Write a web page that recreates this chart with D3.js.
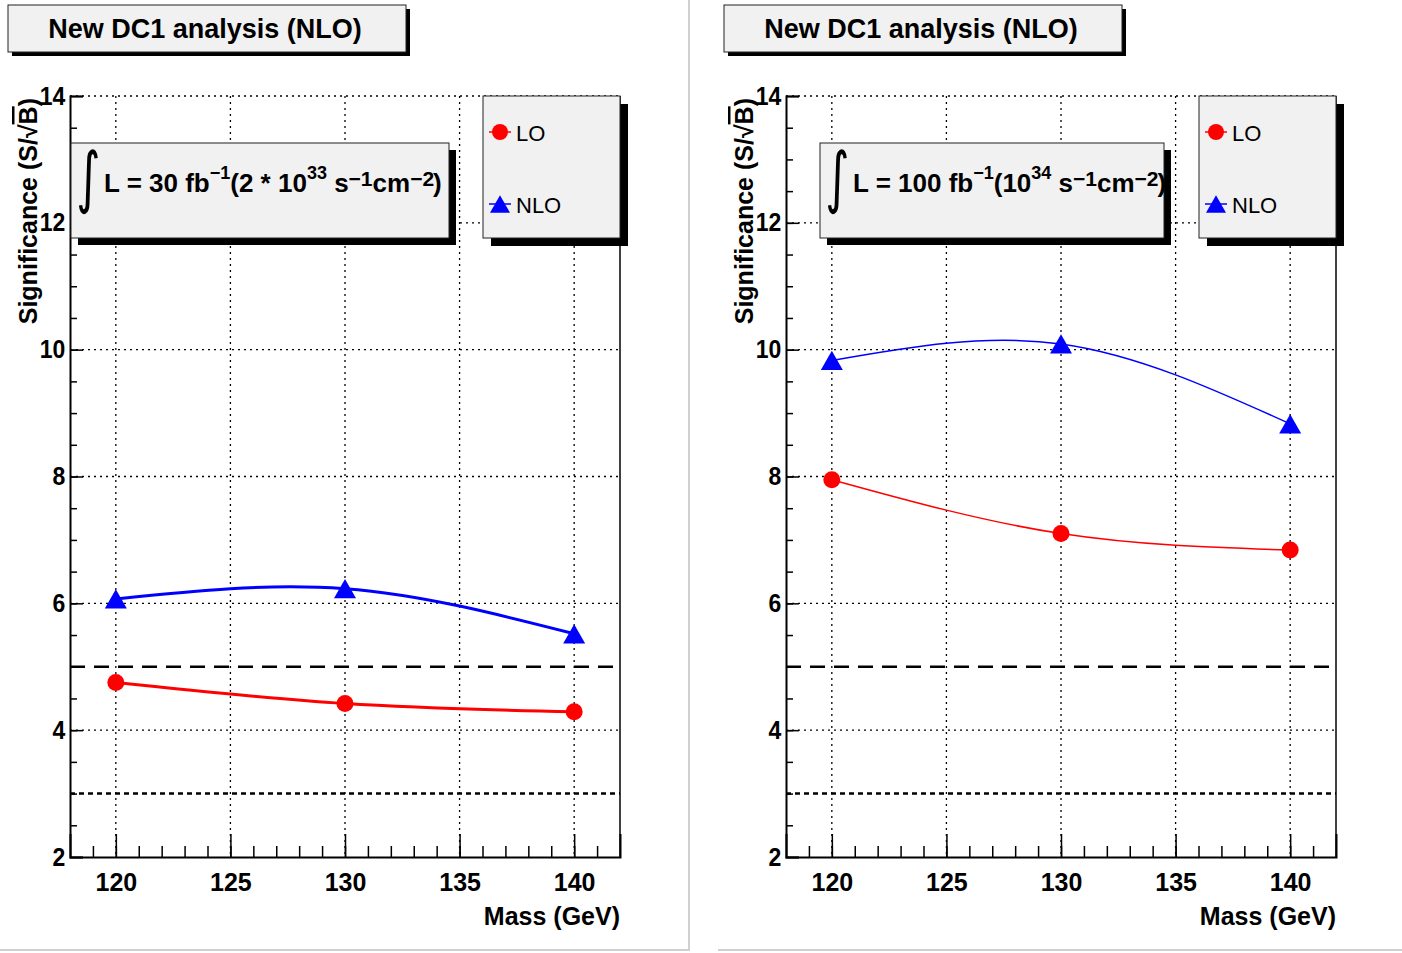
<!DOCTYPE html>
<html>
<head>
<meta charset="utf-8">
<script src="https://cdn.jsdelivr.net/npm/d3@7"></script>
<style>
	body { margin:0; background:#fff; }
	svg { display:block; font-family:"Liberation Sans", Arial, sans-serif; }
</style>
</head>
<body>
<div class="pageBody"></div>
<script>

// data
var masses = [120, 130, 140];
var lo30 = [4.75, 4.42, 4.29];
var nlo30 = [6.07, 6.23, 5.52];
var lo100 = [7.95, 7.10, 6.84];
var nlo100 = [9.83, 10.09, 8.83];

var xTicks = [120, 125, 130, 135, 140];
var xMinor = d3.range(119, 142, 1);
var yTicks = [2, 4, 6, 8, 10, 12, 14];
var yMinor = d3.range(2.5, 14, 0.5);
var refLines = [5, 3]; // 5 sigma dashed, 3 sigma dotted

var titleText = "New DC1 analysis (NLO)";
var legendNames = ["LO", "NLO"];
var colors = ["#ff0000", "#0000ff"];

var W = 1402, H = 953;

var svg = d3.select(".pageBody")
	.append("svg")
	.attr("width", W)
	.attr("height", H)
	;

// pad borders
svg.append("line").attr("x1", 689).attr("x2", 689).attr("y1", 0).attr("y2", 951)
	.attr("stroke", "#d0d0d0").attr("stroke-width", 2);
svg.append("line").attr("x1", 0).attr("x2", 689).attr("y1", 950).attr("y2", 950)
	.attr("stroke", "#d0d0d0").attr("stroke-width", 2);
svg.append("line").attr("x1", 718).attr("x2", W).attr("y1", 950).attr("y2", 950)
	.attr("stroke", "#d0d0d0").attr("stroke-width", 2);

drawPanel({ ox: 0, lo: lo30, nlo: nlo30, lw: 3, lumi: "30", boxLeft: 71, boxRight: 449 });
drawPanel({ ox: 716, lo: lo100, nlo: nlo100, lw: 1.5, lumi: "100", boxLeft: 820 - 716, boxRight: 1164 - 716 });


function shadowBox(g, x, y, w, h, off){
	g.append("rect")
		.attr("x", x + off).attr("y", y + off)
		.attr("width", w).attr("height", h)
		.attr("fill", "#000")
		;
	g.append("rect")
		.attr("x", x).attr("y", y)
		.attr("width", w).attr("height", h)
		.attr("fill", "#f1f1f1")
		.attr("stroke", "#222")
		.attr("stroke-width", 1)
		;
}

function drawPanel(p){
	var ox = p.ox;
	var g = svg.append("g");

	var x = d3.scaleLinear().domain([118, 142]).range([70 + ox, 620 + ox]);
	var y = d3.scaleLinear().domain([2, 14]).range([857, 96]);

	// grid
	g.append("g").selectAll("line")
		.data(xTicks)
		.enter().append("line")
		.attr("x1", function(d){ return x(d); })
		.attr("x2", function(d){ return x(d); })
		.attr("y1", y(14)).attr("y2", y(2))
		.attr("stroke", "#000").attr("stroke-width", 1.3)
		.attr("stroke-dasharray", "2,4")
		;
	g.append("g").selectAll("line")
		.data(yTicks.slice(1))
		.enter().append("line")
		.attr("x1", x(118)).attr("x2", x(142))
		.attr("y1", function(d){ return y(d); })
		.attr("y2", function(d){ return y(d); })
		.attr("stroke", "#000").attr("stroke-width", 1.3)
		.attr("stroke-dasharray", "2,4")
		;

	// 5 and 3 sigma lines
	g.append("line")
		.attr("x1", x(118)).attr("x2", x(142))
		.attr("y1", y(refLines[0])).attr("y2", y(refLines[0]))
		.attr("stroke", "#000").attr("stroke-width", 2.5)
		.attr("stroke-dasharray", "15,9")
		;
	g.append("line")
		.attr("x1", x(118)).attr("x2", x(142))
		.attr("y1", y(refLines[1])).attr("y2", y(refLines[1]))
		.attr("stroke", "#000").attr("stroke-width", 2.5)
		.attr("stroke-dasharray", "5,4")
		;

	// axes, ticks inside the frame (minor and major in their own groups)
	g.append("g")
		.attr("transform", "translate(" + x(118) + ",0)")
		.call(d3.axisLeft(y).tickValues(yMinor).tickSize(-7).tickFormat(""))
		.selectAll(".tick line").attr("stroke-width", 1.5)
		;
	var ya = g.append("g").attr("transform", "translate(" + x(118) + ",0)");
	ya.call(d3.axisLeft(y).tickValues(yTicks).tickSize(-13).tickPadding(5)
		.tickFormat(d3.format("d")));
	ya.select(".domain").attr("stroke-width", 2);
	ya.selectAll(".tick line").attr("stroke-width", 1.5);
	ya.selectAll("text")
		.attr("font-size", 25).attr("font-weight", "bold")
		.attr("font-family", "Liberation Sans").attr("fill", "#000")
		.attr("transform", "scale(0.92,1)")
		;

	g.append("g")
		.attr("transform", "translate(0," + y(2) + ")")
		.call(d3.axisBottom(x).tickValues(xMinor).tickSize(-11).tickFormat(""))
		.selectAll(".tick line").attr("stroke-width", 1.5)
		;
	var xa = g.append("g").attr("transform", "translate(0," + y(2) + ")");
	xa.call(d3.axisBottom(x).tickValues(xTicks).tickSize(-23).tickPadding(16)
		.tickFormat(d3.format("d")));
	xa.select(".domain").attr("stroke-width", 2);
	xa.selectAll(".tick line").attr("stroke-width", 1.5);
	xa.selectAll("text")
		.attr("font-size", 25).attr("font-weight", "bold")
		.attr("font-family", "Liberation Sans").attr("fill", "#000")
		;

	// right frame edge
	g.append("line")
		.attr("x1", x(142)).attr("x2", x(142))
		.attr("y1", y(14)).attr("y2", y(2))
		.attr("stroke", "#000").attr("stroke-width", 1.5)
		;

	// axis titles
	var yt = g.append("text")
		.attr("transform", "translate(" + (37 + ox) + "," + (y(14) + 2) + ") rotate(-90)")
		.attr("text-anchor", "end")
		.attr("font-size", 25).attr("font-weight", "bold")
		;
	yt.append("tspan").text("Significance (S/\u221A");
	yt.append("tspan").attr("text-decoration", "overline").text("B");
	yt.append("tspan").text(")");
	g.append("text")
		.attr("x", x(142)).attr("y", 925)
		.attr("text-anchor", "end")
		.attr("font-size", 25).attr("font-weight", "bold")
		.text("Mass (GeV)")
		;

	// curves
	var series = [p.lo, p.nlo];
	var line = d3.line()
		.x(function(d, i){ return x(masses[i]); })
		.y(function(d){ return y(d); })
		.curve(d3.curveNatural)
		;
	series.forEach(function(s, k){
		g.append("path")
			.attr("d", line(s))
			.attr("fill", "none")
			.attr("stroke", colors[k])
			.attr("stroke-width", p.lw)
			;
	});

	// markers
	g.append("g").selectAll("circle")
		.data(p.lo)
		.enter().append("circle")
		.attr("cx", function(d, i){ return x(masses[i]); })
		.attr("cy", function(d){ return y(d); })
		.attr("r", 8.5)
		.attr("fill", colors[0])
		;
	g.append("g").selectAll("path")
		.data(p.nlo)
		.enter().append("path")
		.attr("d", function(d, i){ return triangle(x(masses[i]), y(d), 11); })
		.attr("fill", colors[1])
		;

	// title
	shadowBox(g, 8 + ox, 5, 398, 47, 4);
	g.append("text")
		.attr("x", 205 + ox).attr("y", 38)
		.attr("text-anchor", "middle")
		.attr("font-size", 27).attr("font-weight", "bold")
		.text(titleText)
		;

	// luminosity box
	var bx = p.boxLeft + ox;
	shadowBox(g, bx, 143, p.boxRight - p.boxLeft, 95, 7);
	g.append("text")
		.attr("x", bx + 3).attr("y", 197)
		.attr("font-family", "DejaVu Sans")
		.attr("font-size", 58)
		.attr("transform", "translate(" + (bx + 14) + ",180) scale(0.8,1.15) translate(" + (-bx - 14) + ",-180)")
		.text("\u222B")
		;
	var t = g.append("text")
		.attr("x", bx + 33).attr("y", 192)
		.attr("font-size", 26).attr("font-weight", "bold")
		;
	t.append("tspan").text("L = " + p.lumi + " fb");
	t.append("tspan").attr("dy", -13).attr("font-size", 18).text("\u22121");
	if(p.lumi == "30"){
		t.append("tspan").attr("dy", 13).text("(2 * 10");
		t.append("tspan").attr("dy", -13).attr("font-size", 18).text("33");
	}
	else {
		t.append("tspan").attr("dy", 13).text("(10");
		t.append("tspan").attr("dy", -13).attr("font-size", 18).text("34");
	}
	t.append("tspan").attr("dy", 13).text(" s");
	t.append("tspan").attr("dy", -6).attr("font-size", 21).text("\u22121");
	t.append("tspan").attr("dy", 6).text("cm");
	t.append("tspan").attr("dy", -6).attr("font-size", 21).text("\u22122");
	t.append("tspan").attr("dy", 6).attr("dx", -1).text(")");

	// legend
	shadowBox(g, 483 + ox, 96, 137, 142, 8);
	var leg = g.append("g").selectAll("g")
		.data(legendNames)
		.enter().append("g")
		.attr("transform", function(d, i){ return "translate(" + (500 + ox) + "," + (132 + i * 72) + ")"; })
		;
	leg.append("line")
		.attr("x1", -11).attr("x2", 11)
		.attr("stroke", function(d, i){ return colors[i]; })
		.attr("stroke-width", 1.5)
		;
	leg.filter(function(d, i){ return i == 0; })
		.append("circle").attr("r", 8).attr("fill", colors[0]);
	leg.filter(function(d, i){ return i == 1; })
		.append("path").attr("d", triangle(0, 0, 10)).attr("fill", colors[1]);
	leg.append("text")
		.attr("x", 16).attr("y", 9)
		.attr("font-size", 22)
		.text(function(d){ return d; })
		;
}

function triangle(cx, cy, s){
	// marker: upward triangle centred on its box
	var h = s * 1.75;
	return "M" + cx + "," + (cy - h / 2) +
		"L" + (cx + s) + "," + (cy + h / 2) +
		"L" + (cx - s) + "," + (cy + h / 2) + "Z";
}

</script>
</body>
</html>
